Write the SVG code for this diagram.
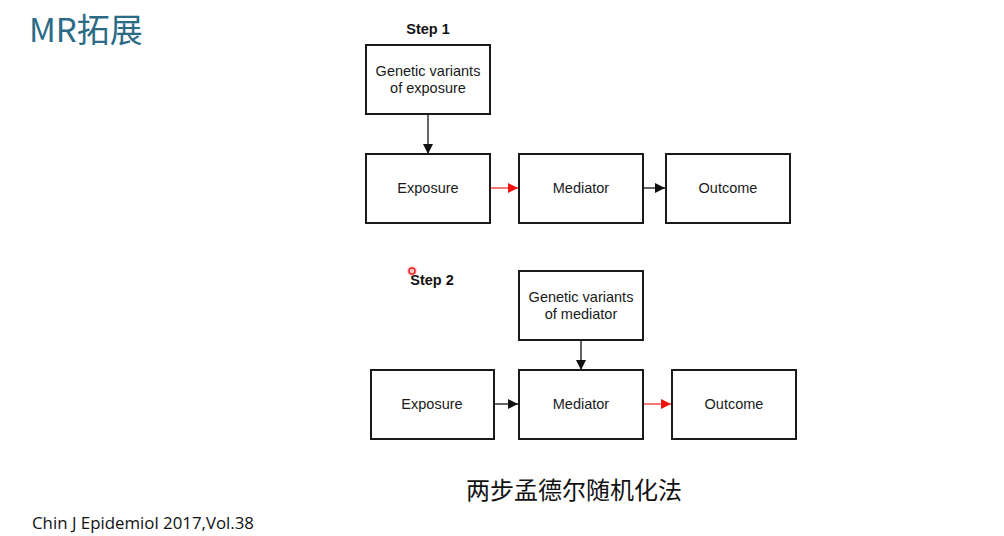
<svg xmlns="http://www.w3.org/2000/svg" width="1004" height="536" viewBox="0 0 1004 536">
<style>
.box{fill:#fff;stroke:#1a1a1a;stroke-width:2}
.lbl{font-family:"Liberation Sans",Arial,sans-serif;font-size:14.5px;fill:#1a1a1a;text-anchor:middle}
.step{font-family:"Liberation Sans",Arial,sans-serif;font-size:14.5px;font-weight:bold;fill:#111;text-anchor:middle}
.blk{stroke:#111;stroke-width:1.3;fill:none;marker-end:url(#ab)}
.red{stroke:#f03030;stroke-width:1.3;fill:none;marker-end:url(#ar)}
</style>
<defs>
<marker id="ab" viewBox="0 0 10 10" refX="10" refY="5" markerWidth="10" markerHeight="10" markerUnits="userSpaceOnUse" orient="auto"><path d="M0,0L10,5L0,10z" fill="#111"/></marker>
<marker id="ar" viewBox="0 0 10 10" refX="10" refY="5" markerWidth="10" markerHeight="10" markerUnits="userSpaceOnUse" orient="auto"><path d="M0,0L10,5L0,10z" fill="#f01010"/></marker>
</defs>
<rect width="1004" height="536" fill="#fff"/>
<text x="29" y="42" font-family="'Noto Sans CJK SC','Noto Sans',sans-serif" font-size="33" fill="#2b6b86">MR拓展</text>
<text class="step" x="428" y="34">Step 1</text>
<text class="step" x="432" y="285">Step 2</text>
<circle cx="412" cy="271" r="3" fill="none" stroke="#e02020" stroke-width="1.5"/>
<circle cx="412" cy="271" r="5" fill="#ff4040" fill-opacity="0.25"/>
<g id="connectors">
<line class="blk" x1="428" y1="114" x2="428" y2="154"/>
<line class="red" x1="491" y1="188" x2="518" y2="188"/>
<line class="blk" x1="644" y1="188" x2="665" y2="188"/>
<line class="blk" x1="581" y1="340" x2="581" y2="370"/>
<line class="blk" x1="495" y1="404" x2="518" y2="404"/>
<line class="red" x1="644" y1="404" x2="671" y2="404"/>
</g>
<g id="gv-exposure"><rect class="box" x="366" y="45" width="124" height="69"/><text class="lbl" x="428" y="76">Genetic variants</text><text class="lbl" x="428" y="93">of exposure</text></g>
<g id="exposure1"><rect class="box" x="366" y="154" width="124" height="69"/><text class="lbl" x="428" y="193">Exposure</text></g>
<g id="mediator1"><rect class="box" x="519" y="154" width="124" height="69"/><text class="lbl" x="581" y="193">Mediator</text></g>
<g id="outcome1"><rect class="box" x="666" y="154" width="124" height="69"/><text class="lbl" x="728" y="193">Outcome</text></g>
<g id="gv-mediator"><rect class="box" x="519" y="271" width="124" height="69"/><text class="lbl" x="581" y="302">Genetic variants</text><text class="lbl" x="581" y="319">of mediator</text></g>
<g id="exposure2"><rect class="box" x="371" y="370" width="123" height="69"/><text class="lbl" x="432" y="409">Exposure</text></g>
<g id="mediator2"><rect class="box" x="519" y="370" width="124" height="69"/><text class="lbl" x="581" y="409">Mediator</text></g>
<g id="outcome2"><rect class="box" x="672" y="370" width="124" height="69"/><text class="lbl" x="734" y="409">Outcome</text></g>
<text x="574" y="499" text-anchor="middle" font-family="'Noto Sans CJK SC',sans-serif" font-size="24" fill="#111">两步孟德尔随机化法</text>
<text x="32" y="529" font-family="'Open Sans','Noto Sans',sans-serif" font-size="17" fill="#111" textLength="222" lengthAdjust="spacingAndGlyphs">Chin J Epidemiol 2017,Vol.38</text>
</svg>
